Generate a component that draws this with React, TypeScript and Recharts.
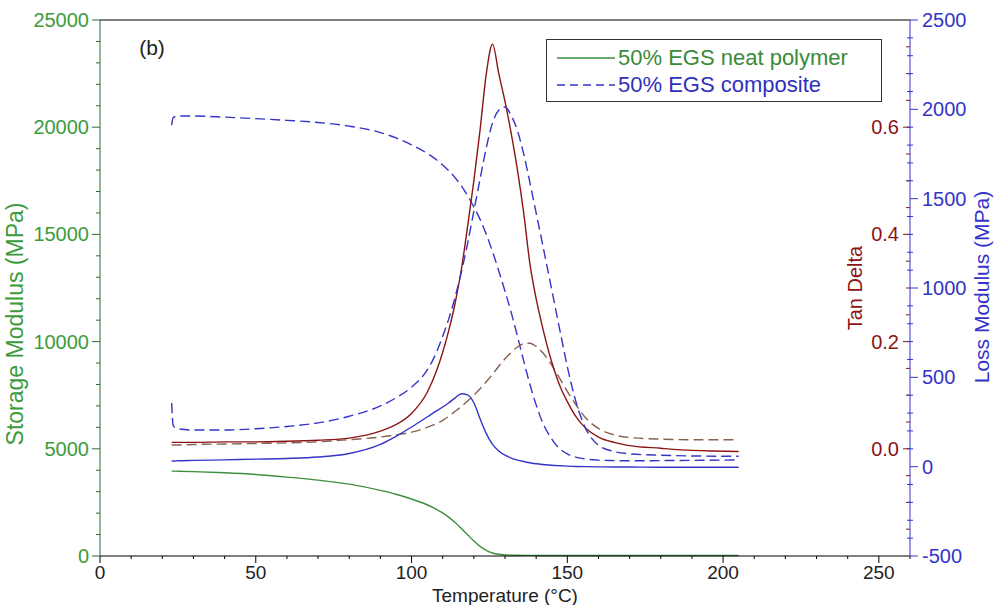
import React from "react";
import { LineChart, Line, XAxis, YAxis, ReferenceLine, Legend } from "recharts";

const FONT = "'Liberation Sans', Arial, Helvetica, sans-serif";
const GREEN_TEXT = "#3c9b3c";
const GREEN_LINE = "#3d8f3d";
const GREEN_AXIS = "#2a6a3a";
const BLUE = "#3434c8";
const RED = "#8c1414";
const BROWN = "#8a6050";

// temperature (°C)
const temps = [
  23, 23.5, 25, 30, 40, 50, 60, 70, 80, 90, 95, 100, 105, 108, 110, 112, 114,
  116, 118, 120, 122, 124, 126, 128, 130, 132, 134, 136, 138, 140, 142, 145,
  148, 150, 153, 156, 160, 165, 170, 180, 190, 205,
];

// storage modulus (MPa), left axis
const storageNeat = [
  3960, 3960, 3955, 3935, 3880, 3800, 3680, 3540, 3350, 3060, 2880, 2660, 2390,
  2180, 2010, 1800, 1560, 1280, 990, 700, 450, 260, 140, 80, 50, 38, 32, 30, 28,
  27, 26, 25, 25, 24, 24, 23, 23, 22, 22, 21, 20, 20,
];
const storageComp = [
  20100, 20450, 20520, 20520, 20470, 20400, 20320, 20220, 20050, 19750, 19500,
  19180, 18780, 18480, 18240, 17960, 17640, 17260, 16800, 16280, 15700, 15000,
  14200, 13300, 12350, 11350, 10250, 9100, 8000, 7050, 6250, 5450, 4950, 4760,
  4600, 4520, 4470, 4450, 4440, 4450, 4460, 4480,
];

// tan delta
const tanNeat = [
  0.012, 0.012, 0.012, 0.012, 0.013, 0.013, 0.014, 0.016, 0.02, 0.033, 0.045,
  0.066, 0.105, 0.145, 0.18, 0.222, 0.272, 0.335, 0.415, 0.5, 0.595, 0.7,
  0.755, 0.7, 0.648, 0.588, 0.52, 0.44, 0.345, 0.28, 0.228, 0.162, 0.112, 0.088,
  0.058, 0.038, 0.022, 0.012, 0.006, 0.001, -0.003, -0.005,
];
const tanComp = [
  0.007, 0.007, 0.007, 0.008, 0.009, 0.01, 0.011, 0.013, 0.017, 0.022, 0.026,
  0.031, 0.04, 0.047, 0.053, 0.061, 0.07, 0.079, 0.089, 0.1, 0.112, 0.125,
  0.139, 0.154, 0.168, 0.18, 0.19, 0.196, 0.197, 0.191, 0.18, 0.156, 0.127,
  0.107, 0.08, 0.057, 0.038, 0.026, 0.021, 0.018, 0.017, 0.017,
];

// loss modulus (MPa), right axis
const lossNeat = [
  32, 32, 33, 35, 38, 42, 46, 54, 74, 125, 170, 222, 278, 312, 334, 358, 385,
  408, 402, 358, 268, 185, 125, 88, 64, 48, 37, 29, 22, 16, 12, 8, 5, 3, 1, 0,
  -1, -2, -2, -3, -3, -3,
];
const lossComp = [
  356, 230, 212, 205, 205, 212, 225, 245, 282, 340, 385, 445, 540, 640, 730,
  830, 950, 1090, 1250, 1430, 1610, 1785, 1925, 1995, 2013, 1965, 1880, 1750,
  1590, 1420, 1250, 990, 730, 560, 350, 210, 120, 85, 72, 64, 60, 58,
];

const xTicks = Array.from({ length: 27 }, (_, i) => i * 10);
const storageTicks = Array.from({ length: 26 }, (_, i) => i * 1000);
const lossTicks = Array.from({ length: 31 }, (_, i) => -500 + i * 100);
const tanMajor = [0, 0.2, 0.4, 0.6];
const tanMinor = [-0.15, -0.1, -0.05, 0.05, 0.1, 0.15, 0.25, 0.3, 0.35, 0.45, 0.5, 0.55, 0.65, 0.7, 0.75];

const legendItems = [
  { label: "50% EGS neat polymer", color: GREEN_LINE, text: "#3a8a3a", dash: undefined },
  { label: "50% EGS composite", color: BLUE, text: "#3030c0", dash: "8 5" },
];

const rows = temps.map((t, i) => ({
  t,
  storageNeat: storageNeat[i],
  storageComp: storageComp[i],
  tanNeat: tanNeat[i],
  tanComp: tanComp[i],
  lossNeat: lossNeat[i],
  lossComp: lossComp[i],
}));

const XTick = (props: any) => {
  const { x, y, payload } = props;
  const major = payload.value % 50 === 0;
  return (
    <g>
      <line x1={x} x2={x} y1={y} y2={y + (major ? 7 : 3)} stroke="#000" />
      {major && (
        <text x={x} y={y + 16} textAnchor="middle" dominantBaseline="central" fontSize={19} fontFamily={FONT} fill="#222">
          {payload.value}
        </text>
      )}
    </g>
  );
};

const LeftTick = (props: any) => {
  const { x, y, payload } = props;
  const major = payload.value % 5000 === 0;
  return (
    <g>
      <line x1={x - (major ? 8 : 4)} x2={x} y1={y} y2={y} stroke={GREEN_AXIS} />
      {major && (
        <text x={x - 11} y={y} textAnchor="end" dominantBaseline="central" fontSize={20} fontFamily={FONT} fill={GREEN_TEXT}>
          {payload.value}
        </text>
      )}
    </g>
  );
};

const RightTick = (props: any) => {
  const { x, y, payload } = props;
  const major = payload.value % 500 === 0;
  return (
    <g>
      <line x1={major ? x : x - 3} x2={x + (major ? 8 : 3)} y1={y} y2={y} stroke={BLUE} />
      {major && (
        <text x={x + 12} y={y} textAnchor="start" dominantBaseline="central" fontSize={20} fontFamily={FONT} fill={BLUE}>
          {payload.value}
        </text>
      )}
    </g>
  );
};

const TanTick = (props: any) => {
  const { viewBox, value, major } = props;
  const x = viewBox.x + viewBox.width;
  const y = viewBox.y;
  return (
    <g>
      <line x1={x - (major ? 7 : 4)} x2={x} y1={y} y2={y} stroke={RED} />
      {major && (
        <text x={x - 11} y={y} textAnchor="end" dominantBaseline="central" fontSize={20} fontFamily={FONT} fill={RED}>
          {value.toFixed(1)}
        </text>
      )}
    </g>
  );
};

const VTitle = (props: any) => {
  const { viewBox, text, color, dx, dy, size } = props;
  const cx = viewBox.x + dx;
  const cy = viewBox.y + viewBox.height / 2 + dy;
  return (
    <text x={cx} y={cy} transform={`rotate(-90, ${cx}, ${cy})`} textAnchor="middle" dominantBaseline="central" fontSize={size} fontFamily={FONT} fill={color}>
      {text}
    </text>
  );
};

const TanTitle = (props: any) => {
  const { viewBox } = props;
  const cx = viewBox.x + viewBox.width - 55;
  const cy = viewBox.y;
  return (
    <text x={cx} y={cy} transform={`rotate(-90, ${cx}, ${cy})`} textAnchor="middle" dominantBaseline="central" fontSize={20} fontFamily={FONT} fill={RED}>
      Tan Delta
    </text>
  );
};

const XTitle = (props: any) => {
  const { viewBox } = props;
  return (
    <text x={viewBox.x + viewBox.width / 2} y={viewBox.y + 39} textAnchor="middle" dominantBaseline="central" fontSize={19} fontFamily={FONT} fill="#222">
      Temperature (°C)
    </text>
  );
};

const PanelTag = (props: any) => {
  const { viewBox } = props;
  return (
    <text x={viewBox.x + 52} y={viewBox.y + 27} textAnchor="middle" dominantBaseline="central" fontSize={21} fontFamily={FONT} fill="#222">
      (b)
    </text>
  );
};

const LegendBox = () => (
  <div style={{ border: "1.5px solid #333", background: "#fff", width: 336, height: 63, boxSizing: "border-box", padding: "4px 0 0 8px", fontFamily: FONT }}>
    {legendItems.map((it) => (
      <div key={it.label} style={{ display: "flex", alignItems: "center", height: 27 }}>
        <svg width={62} height={10}>
          <line x1={2} x2={60} y1={5} y2={5} stroke={it.color} strokeWidth={1.6} strokeDasharray={it.dash} />
        </svg>
        <span style={{ fontSize: 22, color: it.text, marginLeft: 1 }}>{it.label}</span>
      </div>
    ))}
  </div>
);

export default function App() {
  return (
    <div style={{ position: "absolute", left: 0, top: 0, width: 998, height: 605, background: "#fff" }}>
      <LineChart width={998} height={605} data={rows} margin={{ top: 20, right: 0, bottom: 0, left: 0 }}>
        <XAxis
          dataKey="t"
          type="number"
          domain={[0, 260]}
          ticks={xTicks}
          interval={0}
          tickSize={0}
          tickMargin={0}
          tickLine={false}
          tick={<XTick />}
          height={49}
          stroke="#000"
          label={<XTitle />}
        />
        <YAxis
          yAxisId="storage"
          orientation="left"
          width={100}
          domain={[0, 25000]}
          ticks={storageTicks}
          interval={0}
          tickSize={0}
          tickMargin={0}
          tickLine={false}
          tick={<LeftTick />}
          stroke={GREEN_AXIS}
          label={<VTitle text="Storage Modulus (MPa)" color={GREEN_TEXT} dx={15} dy={36} size={23} />}
        />
        <YAxis
          yAxisId="loss"
          orientation="right"
          width={88}
          domain={[-500, 2500]}
          ticks={lossTicks}
          interval={0}
          tickSize={0}
          tickMargin={0}
          tickLine={false}
          tick={<RightTick />}
          stroke={BLUE}
          label={<VTitle text="Loss Modulus (MPa)" color={BLUE} dx={71} dy={-1} size={21} />}
        />
        <YAxis yAxisId="tan" hide domain={[-0.2, 0.8]} />

        <ReferenceLine yAxisId="storage" y={25000} stroke="#000" strokeWidth={1.2} label={<PanelTag />} />
        {tanMinor.map((v) => (
          <ReferenceLine key={`tm-${v}`} yAxisId="tan" y={v} stroke="none" label={<TanTick value={v} major={false} />} />
        ))}
        {tanMajor.map((v) => (
          <ReferenceLine key={`tj-${v}`} yAxisId="tan" y={v} stroke="none" label={<TanTick value={v} major />} />
        ))}
        <ReferenceLine yAxisId="tan" y={0.3} stroke="none" label={<TanTitle />} />

        <Line yAxisId="storage" dataKey="storageNeat" type="monotone" stroke={GREEN_LINE} strokeWidth={1.4} dot={false} activeDot={false} isAnimationActive={false} />
        <Line yAxisId="storage" dataKey="storageComp" type="monotone" stroke={BLUE} strokeWidth={1.4} strokeDasharray="10 5" dot={false} activeDot={false} isAnimationActive={false} />
        <Line yAxisId="tan" dataKey="tanComp" type="monotone" stroke={BROWN} strokeWidth={1.4} strokeDasharray="10 5" dot={false} activeDot={false} isAnimationActive={false} />
        <Line yAxisId="tan" dataKey="tanNeat" type="monotone" stroke={RED} strokeWidth={1.4} dot={false} activeDot={false} isAnimationActive={false} />
        <Line yAxisId="loss" dataKey="lossNeat" type="monotone" stroke={BLUE} strokeWidth={1.4} dot={false} activeDot={false} isAnimationActive={false} />
        <Line yAxisId="loss" dataKey="lossComp" type="monotone" stroke={BLUE} strokeWidth={1.4} strokeDasharray="10 5" dot={false} activeDot={false} isAnimationActive={false} />

        <Legend
          layout="vertical"
          align="center"
          verticalAlign="middle"
          content={<LegendBox />}
          wrapperStyle={{ left: 546, top: 39, width: 336, height: 63 }}
        />
      </LineChart>
    </div>
  );
}
